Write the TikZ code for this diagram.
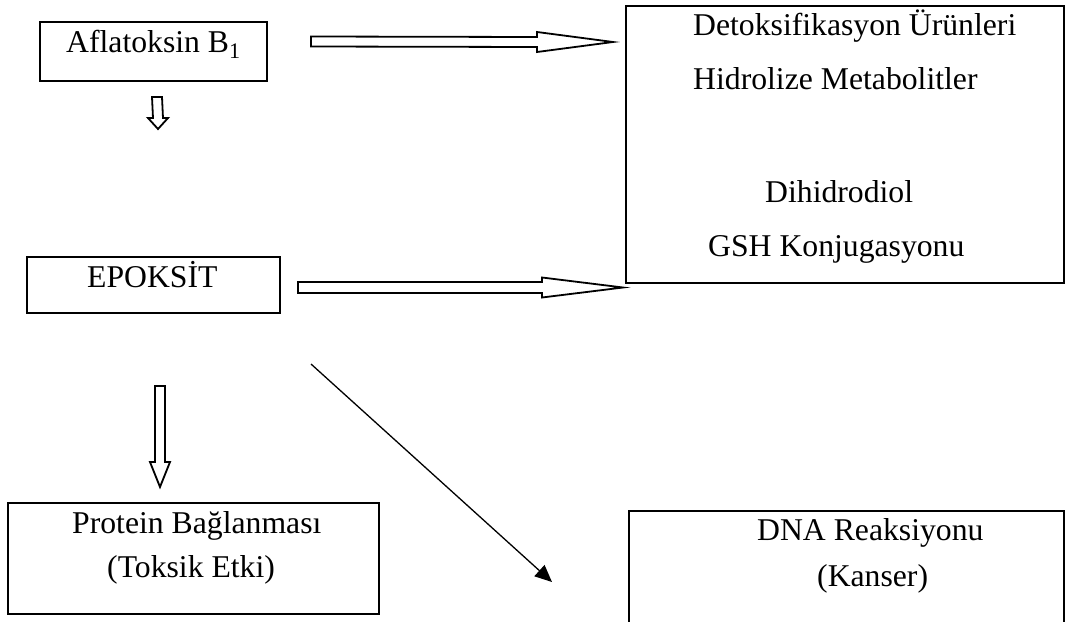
\documentclass[tikz,border=0pt]{standalone}
\usepackage{fontspec}
\setmainfont{Liberation Serif}
\usetikzlibrary{calc,arrows.meta}
\newcommand{\hblock}[5]{% start, end, shaft half, head half, head length
  \draw[blockarrow] ($(#1)+(0,-#3)$) -- ($(#2)+(-#5,-#3)$) -- ($(#2)+(-#5,-#4)$) -- (#2)
    -- ($(#2)+(-#5,#4)$) -- ($(#2)+(-#5,#3)$) -- ($(#1)+(0,#3)$) -- cycle;}
\newcommand{\vblock}[5]{%
  \draw[blockarrow] ($(#1)+(-#3,0)$) -- ($(#2)+(-#3,-#5)$) -- ($(#2)+(-#4,-#5)$) -- (#2)
    -- ($(#2)+(#4,-#5)$) -- ($(#2)+(#3,-#5)$) -- ($(#1)+(#3,0)$) -- cycle;}
\tikzset{
  box/.style={draw=black, line width=2.2pt, rectangle, inner sep=0pt},
  txt/.style={anchor=base west, inner sep=0pt, font=\fontsize{31.7}{38}\selectfont},
  blockarrow/.style={draw=black, fill=white, line width=1.8pt, line join=miter},
  thin/.style={draw=black, line width=1.3pt, -{Triangle[length=17pt,width=15pt]}}
}
\begin{document}
\begin{tikzpicture}[x=1pt,y=-1pt]
\useasboundingbox (0,0) rectangle (1067,621);
\clip (0,0) rectangle (1067,621);
\fill[white] (0,0) rectangle (1067,621);
% boxes
\draw[box] (40,22) rectangle (267,81) node[coordinate] (aflabox) {};
\draw[box] (626,6) rectangle (1064,283) node[coordinate] (detoxbox) {};
\draw[box] (27,257) rectangle (280,313) node[coordinate] (epoxbox) {};
\draw[box] (8,503) rectangle (379,614) node[coordinate] (protbox) {};
\draw[box] (629,511) rectangle (1064,650) node[coordinate] (dnabox) {};
% texts
\node[txt] (afla) at (66,52) {Aflatoksin B\textsubscript{1}};
\node[txt] (detox) at (693,35) {Detoksifikasyon Ürünleri};
\node[txt] (hidro) at (693,89) {Hidrolize Metabolitler};
\node[txt] (dihid) at (765,202) {Dihidrodiol};
\node[txt] (gsh) at (708,256) {GSH Konjugasyonu};
\node[txt] (epox) at (87,287) {EPOKSİT};
\node[txt] (prot) at (72,533) {Protein Bağlanması};
\node[txt] (toks) at (107,577) {(Toksik Etki)};
\node[txt] (dna) at (757,540) {DNA Reaksiyonu};
\node[txt] (kans) at (817,586) {(Kanser)};
% block arrows
\coordinate (a1s) at (311,41.5); \coordinate (a1e) at (613,42);
\hblock{a1s}{a1e}{5}{10}{76}
\coordinate (a2s) at (298,287.5); \coordinate (a2e) at (623,287.5);
\hblock{a2s}{a2e}{5.5}{10}{81}
\coordinate (v1s) at (157,97); \coordinate (v1e) at (158,129);
\vblock{v1s}{v1e}{5}{10}{11}
\coordinate (v2s) at (160,386); \coordinate (v2e) at (160,487);
\vblock{v2s}{v2e}{5}{10}{25}
% thin arrow
\coordinate (d1) at (311,364); \coordinate (d2) at (552,582);
\draw[thin] (d1) -- (d2);
\end{tikzpicture}
\end{document}
